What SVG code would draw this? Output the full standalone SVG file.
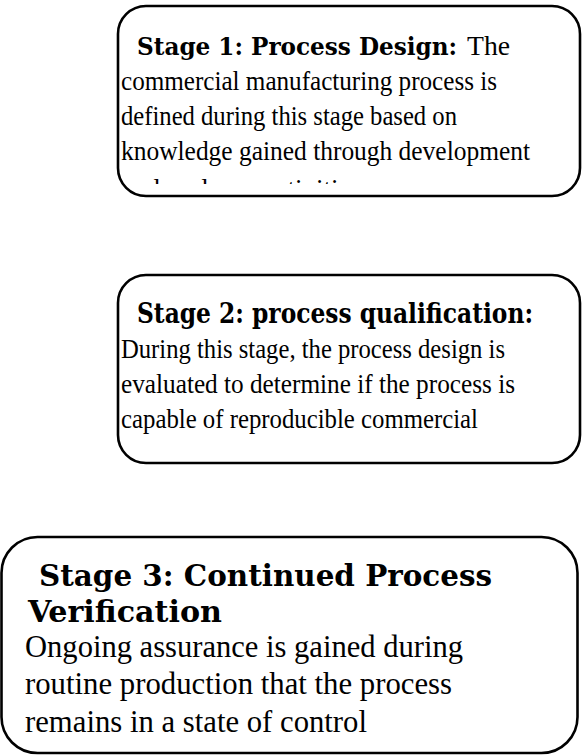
<svg xmlns="http://www.w3.org/2000/svg" width="582" height="755" viewBox="0 0 582 755">
  <style>
    .box { fill: #ffffff; stroke: #000000; stroke-width: 2.6; }
    .head { font-family: "DejaVu Serif", "Liberation Serif", serif; font-weight: bold; font-stretch: condensed; fill: #000; }
    .body { font-family: "Liberation Serif", "Times New Roman", serif; font-weight: normal; font-stretch: normal; fill: #000; }
    .h1 { font-size: 27px; }
    .b1 { font-size: 27px; }
    .h3 { font-size: 29px; }
    .b3 { font-size: 31px; }
  </style>
  <defs>
    <!-- the last line of stage 1 runs past the frame and is cut off -->
    <clipPath id="stage1-clip">
      <rect x="118" y="6" width="462" height="178"/>
    </clipPath>
  </defs>

  <rect width="582" height="755" fill="#ffffff"/>

  <!-- Stage 1 -->
  <g id="stage1">
    <rect class="box" x="118" y="6" width="462" height="190" rx="28" ry="28"/>
    <g clip-path="url(#stage1-clip)">
      <text class="head" font-size="24.5" x="137" y="55" textLength="320" lengthAdjust="spacingAndGlyphs">Stage 1: Process Design:</text>
      <text class="body b1" x="467" y="55" textLength="43" lengthAdjust="spacingAndGlyphs">The</text>
      <text class="body b1" x="121" y="90" textLength="376" lengthAdjust="spacingAndGlyphs">commercial manufacturing process is</text>
      <text class="body b1" x="121" y="125" textLength="336" lengthAdjust="spacingAndGlyphs">defined during this stage based on</text>
      <text class="body b1" x="121" y="160" textLength="409" lengthAdjust="spacingAndGlyphs">knowledge gained through development</text>
      <text class="body b1" x="121" y="198">and scale-up activities.</text>
    </g>
  </g>

  <!-- Stage 2 -->
  <g id="stage2">
    <rect class="box" x="118" y="275" width="462" height="188" rx="28" ry="28"/>
    <text class="head h1" x="137" y="323" textLength="396" lengthAdjust="spacingAndGlyphs">Stage 2: process qualification:</text>
    <text class="body b1" x="121" y="358" textLength="384" lengthAdjust="spacingAndGlyphs">During this stage, the process design is</text>
    <text class="body b1" x="121" y="393" textLength="394" lengthAdjust="spacingAndGlyphs">evaluated to determine if the process is</text>
    <text class="body b1" x="121" y="428" textLength="357" lengthAdjust="spacingAndGlyphs">capable of reproducible commercial</text>
  </g>

  <!-- Stage 3 -->
  <g id="stage3">
    <rect class="box" x="1.5" y="537" width="576" height="216" rx="36" ry="36"/>
    <text class="head h3" x="39" y="586" textLength="453" lengthAdjust="spacingAndGlyphs">Stage 3: Continued Process</text>
    <text class="head h3" x="28" y="622" textLength="194" lengthAdjust="spacingAndGlyphs">Verification</text>
    <text class="body b3" x="25" y="657" textLength="438" lengthAdjust="spacingAndGlyphs">Ongoing assurance is gained during</text>
    <text class="body b3" x="25" y="694" textLength="427" lengthAdjust="spacingAndGlyphs">routine production that the process</text>
    <text class="body b3" x="25" y="732" textLength="342" lengthAdjust="spacingAndGlyphs">remains in a state of control</text>
  </g>
</svg>
